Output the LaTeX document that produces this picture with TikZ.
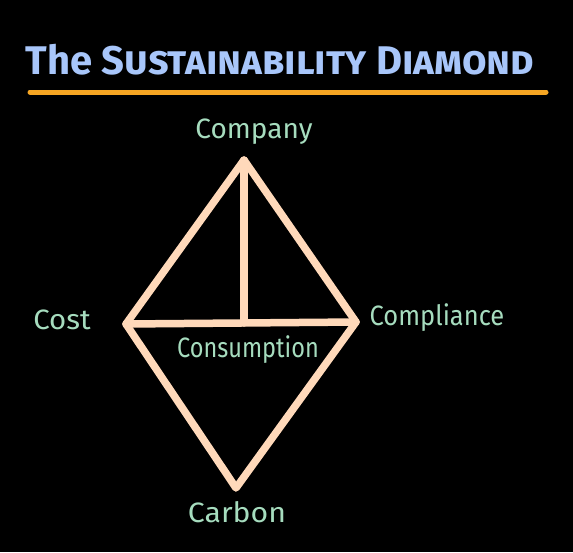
\documentclass[tikz,border=0pt]{standalone}
\usepackage{fontspec}
\usepackage{graphicx}
\setmainfont{Fira Sans}
\definecolor{titleblue}{HTML}{A8C6FA}
\definecolor{labelgreen}{HTML}{A6DCBE}
\definecolor{peach}{HTML}{FFD9BA}
\definecolor{uorange}{HTML}{F6A623}
\tikzset{
  edge/.style={draw=peach, line width=7.5pt, line cap=round, line join=round},
  lbl/.style={text=labelgreen, font=\fontsize{28}{32}\selectfont, inner sep=0pt},
}
\begin{document}
\begin{tikzpicture}[x=1pt,y=-1pt]
\fill[black] (0,0) rectangle (573,552);
\useasboundingbox (0,0) rectangle (573,552);
% title
\node[text=titleblue, inner sep=0pt, font=\fontsize{40}{44}\selectfont\bfseries] (title) at (280,60) {The {\addfontfeature{Letters=SmallCaps}Sustainability Diamond}};
\coordinate (ul1) at (30,92);
\coordinate (ul2) at (546,92);
\draw[uorange, line width=5pt, line cap=round] (ul1) -- (ul2);
% diamond vertices
\coordinate (top) at (244,160);
\coordinate (left) at (126,324);
\coordinate (right) at (356,322);
\coordinate (bottom) at (236,488);
\coordinate (mid) at (244,323);
\draw[edge] (top) -- (right) -- (bottom) -- (left) -- cycle;
\draw[edge] (left) -- (right);
\draw[edge] (top) -- (mid);
% labels
\node[lbl] (company) at (254,132) {Company};
\node[lbl] (cost) at (62,320) {\scalebox{1.05}[1]{Cost}};
\node[lbl] (compliance) at (437,318) {\scalebox{0.91}[1]{Compliance}};
\node[lbl] (consumption) at (248,350) {\scalebox{0.84}[1]{Consumption}};
\node[lbl] (carbon) at (237,512) {\scalebox{1.08}[1]{Carbon}};
\end{tikzpicture}
\end{document}
